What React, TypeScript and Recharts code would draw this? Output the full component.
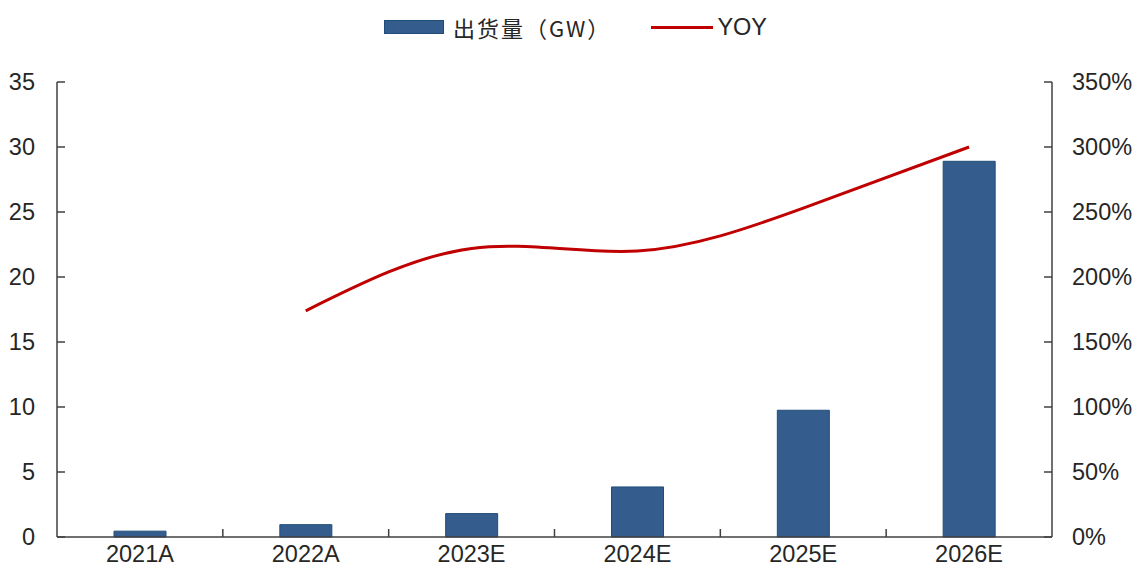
import React from 'react';
import {
  ComposedChart,
  Bar,
  Line,
  XAxis,
  YAxis,
  Legend,
} from 'recharts';

const categories = ['2021A', '2022A', '2023E', '2024E', '2025E', '2026E'];
const shipment = [0.45, 0.95, 1.8, 3.85, 9.75, 28.9];
const yoy: (number | null)[] = [null, 174, 222, 220, 253, 300];

const leftTicks = [0, 5, 10, 15, 20, 25, 30, 35];
const rightTicks = [0, 50, 100, 150, 200, 250, 300, 350];

const data = categories.map((name, i) => ({
  name,
  shipment: shipment[i],
  yoy: yoy[i],
}));

const COLORS = {
  bar: '#345C8C',
  barStroke: '#1F4E79',
  line: '#C00000',
  axis: '#404040',
  text: '#262626',
};

const FONT = '"Liberation Sans", Arial, sans-serif';
const FS = 23.5;
const PLOT_W = 995;
const BAND = PLOT_W / categories.length;

const XTick = (props: any) => {
  const { x, y, payload, index } = props;
  const isLast = index === categories.length - 1;
  return (
    <g>
      {!isLast && (
        <line
          x1={x + BAND / 2}
          x2={x + BAND / 2}
          y1={537}
          y2={529}
          stroke={COLORS.axis}
          strokeWidth={1.5}
        />
      )}
      <text
        x={x}
        y={y + 17}
        textAnchor="middle"
        fill={COLORS.text}
        fontSize={FS}
        fontFamily={FONT}
      >
        {payload.value}
      </text>
    </g>
  );
};

const LegendContent = () => (
  <div
    style={{
      display: 'flex',
      justifyContent: 'center',
      alignItems: 'center',
      fontSize: FS,
      color: COLORS.text,
      height: 30,
      paddingLeft: 14,
    }}
  >
    <span
      style={{
        display: 'inline-block',
        width: 58,
        height: 12,
        background: COLORS.bar,
        border: `1px solid ${COLORS.barStroke}`,
        marginRight: 9,
      }}
    />
    <span
      style={{
        fontFamily: '"Noto Sans CJK SC", sans-serif',
        fontSize: 22,
        letterSpacing: 2,
      }}
    >
      出货量（GW）
    </span>
    <span
      style={{
        display: 'inline-block',
        width: 62,
        height: 3,
        background: COLORS.line,
        marginLeft: 40,
        marginRight: 4,
      }}
    />
    <span style={{ fontFamily: FONT }}>YOY</span>
  </div>
);

export default function App() {
  return (
    <div
      style={{
        position: 'absolute',
        left: 0,
        top: 0,
        width: 1137,
        height: 577,
        background: '#fff',
        fontFamily: FONT,
      }}
    >
      <ComposedChart
        width={1137}
        height={577}
        data={data}
        margin={{ top: 52, right: 0, bottom: 0, left: 0 }}
        barSize={52}
      >
        <XAxis
          dataKey="name"
          height={40}
          tickLine={false}
          axisLine={{ stroke: COLORS.axis, strokeWidth: 1.5 }}
          tick={<XTick />}
          interval={0}
        />
        <YAxis
          yAxisId="left"
          width={57}
          domain={[0, 35]}
          ticks={leftTicks}
          tickSize={-8}
          tickMargin={30}
          tickLine={{ stroke: COLORS.axis, strokeWidth: 1.5 }}
          axisLine={{ stroke: COLORS.axis, strokeWidth: 1.5 }}
          tick={{ fill: COLORS.text, fontSize: FS, fontFamily: FONT }}
        />
        <YAxis
          yAxisId="right"
          orientation="right"
          width={85}
          domain={[0, 350]}
          ticks={rightTicks}
          tickSize={-8}
          tickMargin={28}
          tickFormatter={(v: number) => `${v}%`}
          tickLine={{ stroke: COLORS.axis, strokeWidth: 1.5 }}
          axisLine={{ stroke: COLORS.axis, strokeWidth: 1.5 }}
          tick={{ fill: COLORS.text, fontSize: FS, fontFamily: FONT, textAnchor: 'start' }}
        />
        <Legend
          verticalAlign="top"
          content={<LegendContent />}
          wrapperStyle={{ top: 12, left: 0, width: 1137 }}
        />
        <Bar
          yAxisId="left"
          dataKey="shipment"
          name="出货量（GW）"
          fill={COLORS.bar}
          stroke={COLORS.barStroke}
          strokeWidth={1}
          isAnimationActive={false}
        />
        <Line
          yAxisId="right"
          dataKey="yoy"
          name="YOY"
          type="natural"
          stroke={COLORS.line}
          strokeWidth={3}
          dot={false}
          connectNulls={false}
          isAnimationActive={false}
        />
      </ComposedChart>
    </div>
  );
}
